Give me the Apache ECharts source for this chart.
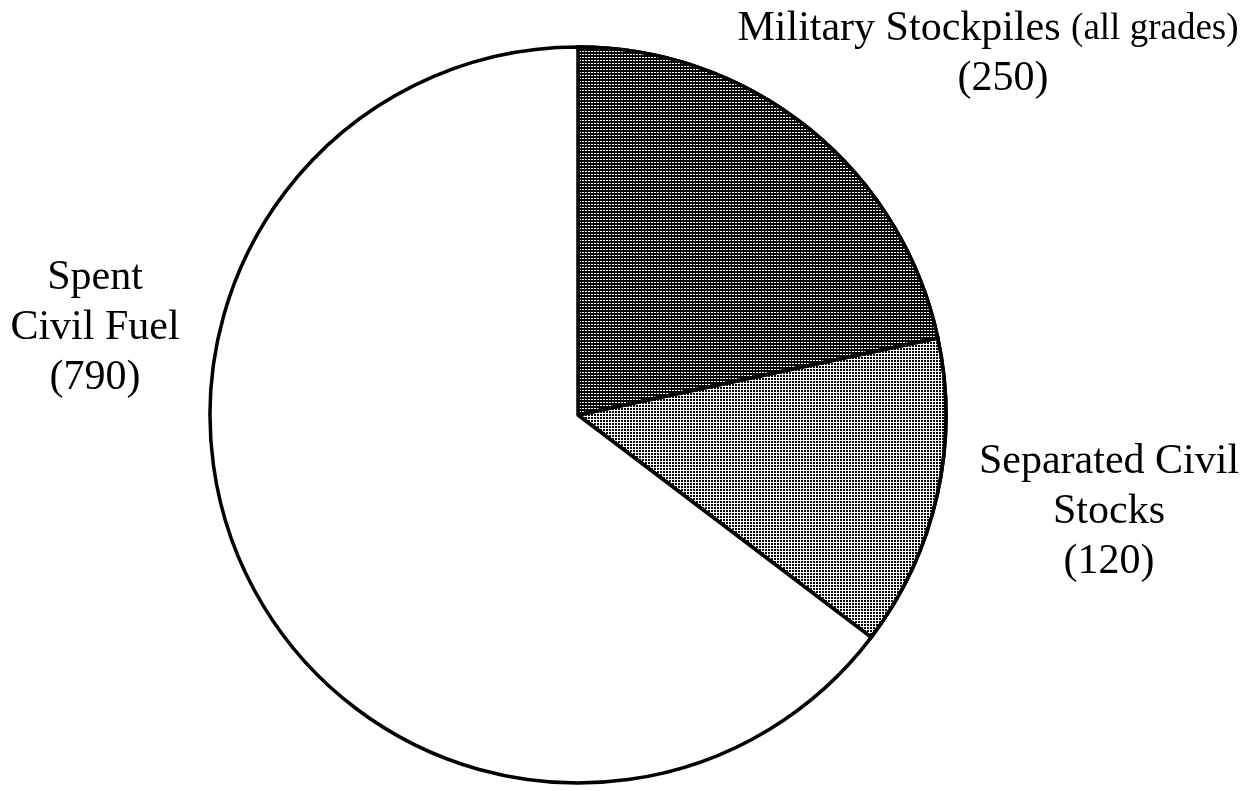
<!DOCTYPE html>
<html>
<head>
<meta charset="utf-8">
<style>
  html, body { margin: 0; padding: 0; background: #fff; }
  #chart { width: 1246px; height: 791px; }
</style>
<script src="https://cdn.jsdelivr.net/npm/echarts@6/dist/echarts.min.js"></script>
</head>
<body>
<div id="chart"></div>
<script>
const categories = ['Military Stockpiles', 'Separated Civil Stocks', 'Spent Civil Fuel'];
const sliceValues = [250, 158, 747];
const labelNumbers = ['250', '120', '790'];

const chart = echarts.init(document.getElementById('chart'), null, { renderer: 'canvas' });

const FONT = '"Liberation Serif", "Times New Roman", serif';

const labelTexts = [
  '{a|Military Stockpiles\u00a0}{s|(all grades)}\n{p|(' + labelNumbers[0] + ')}',
  '{a|Separated Civil}\n{a|Stocks}\n{a|(' + labelNumbers[1] + ')}',
  '{a|Spent}\n{a|Civil Fuel}\n{a|(' + labelNumbers[2] + ')}'
];
// label anchor positions (layout only)
const labelAnchors = [
  { x: 988, y: 4 },
  { x: 1109, y: 437 },
  { x: 95, y: 253 }
];

const styles = [
  { color: '#000', decal: { symbol: 'rect', symbolSize: 1, dashArrayX: [2, 1], dashArrayY: [1, 2], color: '#fff' } },
  { color: '#fff', decal: { symbol: 'rect', symbolSize: 1, dashArrayX: [2, 1], dashArrayY: [2, 1], color: '#000' } },
  { color: '#fff' }
];

const data = categories.map((name, i) => ({
  name: name,
  value: sliceValues[i],
  itemStyle: Object.assign({ borderColor: '#000', borderWidth: 3.5 }, styles[i]),
  label: { formatter: labelTexts[i] }
}));

chart.setOption({
  backgroundColor: '#fff',
  animation: false,
  series: [{
    type: 'pie',
    center: [578, 415],
    radius: 368,
    startAngle: 90,
    clockwise: true,
    data: data,
    emphasis: { disabled: true },
    labelLine: { show: false },
    label: {
      show: true,
      position: 'outside',
      color: '#000',
      align: 'center',
      overflow: 'none',
      width: 600,
      fontFamily: FONT,
      rich: {
        a: { fontSize: 42, lineHeight: 50, fontFamily: FONT, color: '#000' },
        p: { fontSize: 42, lineHeight: 50, fontFamily: FONT, color: '#000', padding: [0, 0, 0, 30] },
        s: { fontSize: 37, lineHeight: 50, fontFamily: FONT, color: '#000' }
      }
    },
    labelLayout: function (params) {
      const p = labelAnchors[params.dataIndex];
      return { x: p.x, y: p.y, align: 'center', verticalAlign: 'top' };
    }
  }]
});
</script>
</body>
</html>
